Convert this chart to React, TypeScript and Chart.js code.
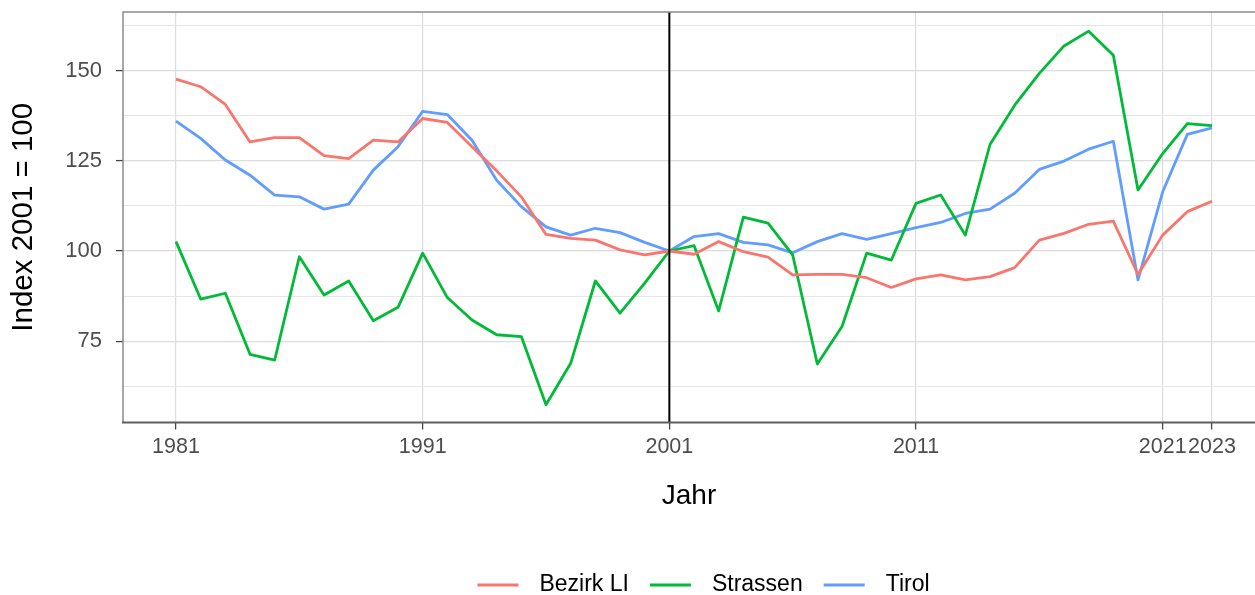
import React, { useEffect, useRef } from "react";
import { Chart, registerables } from "chart.js";

Chart.register(...registerables);

const years: number[] = [
  1981, 1982, 1983, 1984, 1985, 1986, 1987, 1988, 1989, 1990,
  1991, 1992, 1993, 1994, 1995, 1996, 1997, 1998, 1999, 2000,
  2001, 2002, 2003, 2004, 2005, 2006, 2007, 2008, 2009, 2010,
  2011, 2012, 2013, 2014, 2015, 2016, 2017, 2018, 2019, 2020,
  2021, 2022, 2023,
];

const bezirkLI: number[] = [
  147.6, 145.5, 140.6, 130.2, 131.4, 131.4, 126.4, 125.6, 130.7, 130.2,
  136.7, 135.6, 128.9, 122.2, 115.0, 104.6, 103.5, 103.0, 100.3, 98.9,
  100.0, 99.1, 102.6, 99.8, 98.3, 93.4, 93.5, 93.5, 92.6, 89.9,
  92.3, 93.4, 92.0, 92.9, 95.4, 103.0, 104.9, 107.4, 108.3, 93.5,
  104.4, 110.9, 113.8,
];

const strassen: number[] = [
  102.6, 86.7, 88.3, 71.4, 69.8, 98.4, 87.8, 91.7, 80.7, 84.4,
  99.4, 87.1, 80.9, 76.8, 76.3, 57.4, 68.9, 91.7, 82.8, 91.1,
  100.0, 101.5, 83.4, 109.4, 107.7, 98.9, 68.7, 79.1, 99.4, 97.5,
  113.2, 115.5, 104.4, 129.5, 140.4, 149.2, 156.8, 160.9, 154.2, 116.9,
  127.0, 135.3, 134.7,
];

const tirol: number[] = [
  136.0, 131.2, 125.2, 121.0, 115.5, 115.0, 111.6, 113.0, 122.4, 128.9,
  138.7, 137.8, 130.7, 119.6, 112.3, 106.7, 104.4, 106.3, 105.1, 102.4,
  100.0, 104.0, 104.8, 102.4, 101.7, 99.5, 102.6, 104.8, 103.2, 104.8,
  106.5, 107.9, 110.4, 111.6, 116.0, 122.6, 124.9, 128.2, 130.4, 92.0,
  116.4, 132.3, 134.1,
];

const seriesLabels: string[] = ["Bezirk LI", "Strassen", "Tirol"];
const seriesColors: string[] = ["#F8766D", "#00BA38", "#619CFF"];
const xTickValues: number[] = [1981, 1991, 2001, 2011, 2021, 2023];
const yGridValues: number[] = [62.5, 75, 87.5, 100, 112.5, 125, 137.5, 150, 162.5];
const yLabelStep = 25;
const refYear = 2001;

const FONT = "'Liberation Sans', Arial, sans-serif";

const decorPlugin = {
  id: "decor",
  afterDatasetsDraw(chart: any) {
    const { ctx, chartArea, scales } = chart;
    const x = scales.x.getPixelForValue(refYear);
    ctx.save();
    ctx.strokeStyle = "#000000";
    ctx.lineWidth = 2;
    ctx.beginPath();
    ctx.moveTo(x, chartArea.top);
    ctx.lineTo(x, chartArea.bottom);
    ctx.stroke();
    ctx.restore();
  },
  afterDraw(chart: any) {
    const { ctx, chartArea } = chart;
    ctx.save();
    // panel border
    ctx.strokeStyle = "#8A8A8A";
    ctx.lineWidth = 1.5;
    ctx.beginPath();
    ctx.moveTo(chartArea.left, chartArea.bottom);
    ctx.lineTo(chartArea.left, chartArea.top);
    ctx.lineTo(chartArea.right + 2, chartArea.top);
    ctx.stroke();
    ctx.strokeStyle = "#5E5E5E";
    ctx.lineWidth = 2;
    ctx.beginPath();
    ctx.moveTo(chartArea.left - 1, chartArea.bottom);
    ctx.lineTo(chartArea.right + 2, chartArea.bottom);
    ctx.stroke();

    // legend
    const ds = chart.data.datasets;
    ctx.font = `23px ${FONT}`;
    const keyW = 41;
    const gap = 21;
    let total = 0;
    const widths = ds.map((d: any) => ctx.measureText(d.label).width);
    widths.forEach((w: number, i: number) => {
      total += keyW + gap + w + (i < ds.length - 1 ? gap : 0);
    });
    let cx = 703.5 - total / 2;
    const cy = 585;
    ctx.textBaseline = "middle";
    ctx.textAlign = "left";
    ds.forEach((d: any, i: number) => {
      ctx.strokeStyle = d.borderColor;
      ctx.lineWidth = 3;
      ctx.beginPath();
      ctx.moveTo(cx, cy);
      ctx.lineTo(cx + keyW, cy);
      ctx.stroke();
      cx += keyW + gap;
      ctx.fillStyle = "#000000";
      ctx.fillText(d.label, cx, cy);
      cx += widths[i] + gap;
    });
    ctx.restore();
  },
};

export default function App() {
  const canvasRef = useRef<HTMLCanvasElement | null>(null);

  useEffect(() => {
    if (!canvasRef.current) return;
    const all = [bezirkLI, strassen, tirol];
    const chart = new Chart(canvasRef.current, {
      type: "line",
      data: {
        datasets: all.map((vals, i) => ({
          label: seriesLabels[i],
          data: years.map((y, j) => ({ x: y, y: vals[j] })),
          borderColor: seriesColors[i],
          backgroundColor: seriesColors[i],
          borderWidth: 2.8,
          pointRadius: 0,
          tension: 0,
          borderJoinStyle: "round" as const,
          borderCapStyle: "butt" as const,
        })),
      },
      options: {
        responsive: false,
        animation: false,
        layout: { padding: { top: 12, bottom: 82.2, left: 0, right: 0 } },
        plugins: {
          legend: { display: false },
          tooltip: { enabled: false },
        },
        scales: {
          x: {
            type: "linear",
            min: 1978.851,
            max: 2024.743,
            afterBuildTicks: (scale: any) => {
              scale.ticks = xTickValues.map((v) => ({ value: v }));
            },
            afterFit: (scale: any) => {
              scale.height = 90.3;
              scale.paddingLeft = 0;
              scale.paddingRight = 0;
            },
            ticks: {
              autoSkip: false,
              maxRotation: 0,
              minRotation: 0,
              padding: 5,
              color: "#4D4D4D",
              font: { family: FONT, size: 21.5 },
              callback: (v: any) => String(v),
            },
            grid: {
              color: "#DCDCDC",
              lineWidth: 1.2,
              tickLength: 7,
              tickColor: "#444444",
              tickWidth: 1.3,
            },
            border: { display: false },
            title: {
              display: true,
              text: "Jahr",
              color: "#000000",
              font: { family: FONT, size: 28 },
              padding: { top: 0, bottom: 0 },
            },
          },
          y: {
            type: "linear",
            min: 52.5,
            max: 166.2,
            afterBuildTicks: (scale: any) => {
              scale.ticks = yGridValues.map((v) => ({ value: v }));
            },
            afterFit: (scale: any) => {
              scale.width = 123;
              scale.paddingTop = 0;
              scale.paddingBottom = 0;
            },
            ticks: {
              autoSkip: false,
              padding: 14,
              color: "#4D4D4D",
              font: { family: FONT, size: 22 },
              callback: (v: any) => (Number(v) % yLabelStep === 0 ? String(v) : ""),
            },
            grid: {
              color: (c: any) => (c.tick && c.tick.value % yLabelStep === 0 ? "#DCDCDC" : "#E6E6E6"),
              lineWidth: (c: any) => (c.tick && c.tick.value % yLabelStep === 0 ? 1.2 : 1),
              tickLength: 7,
              tickColor: (c: any) => (c.tick && c.tick.value % yLabelStep === 0 ? "#444444" : "rgba(0,0,0,0)"),
              tickWidth: 1.3,
            },
            border: { display: false },
            title: {
              display: true,
              text: "Index 2001 = 100",
              color: "#000000",
              font: { family: FONT, size: 29.5 },
              padding: { top: 6, bottom: 0 },
            },
          },
        },
      },
      plugins: [decorPlugin],
    });
    return () => chart.destroy();
  }, []);

  return (
    <div style={{ position: "fixed", left: 0, top: 0, width: 1255, height: 595, background: "#ffffff" }}>
      <canvas ref={canvasRef} width={1255} height={595} style={{ display: "block" }} />
    </div>
  );
}
